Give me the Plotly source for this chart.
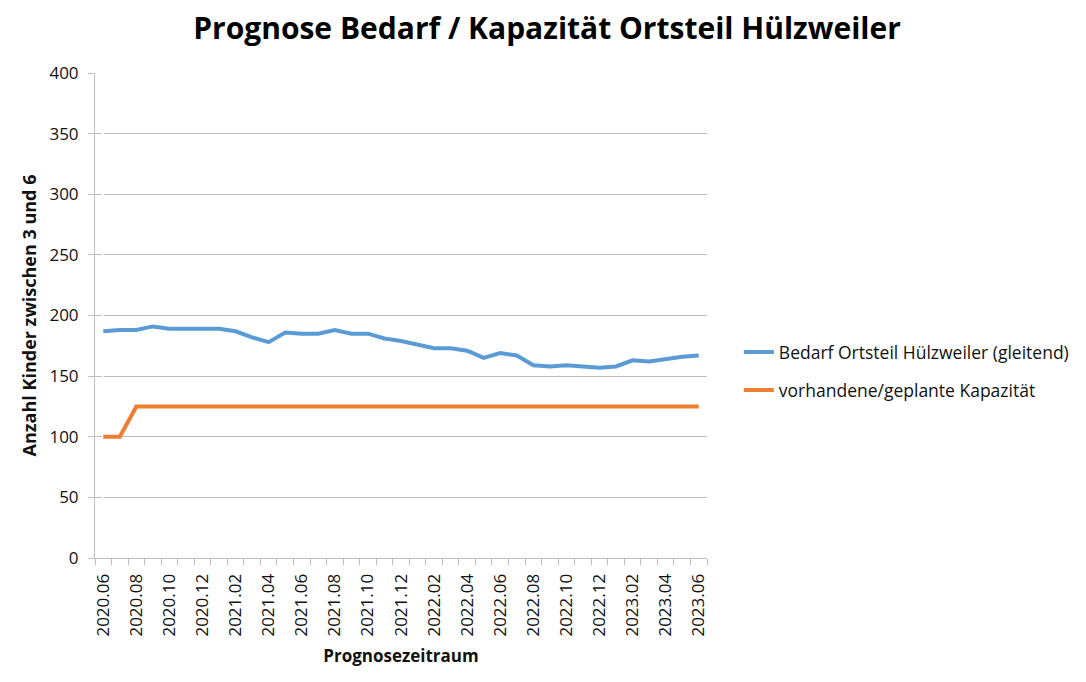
import plotly.graph_objects as go

months = [f"{2020 + (5 + i) // 12}.{(5 + i) % 12 + 1:02d}" for i in range(37)]
bedarf = [187, 188, 188, 191, 189, 189, 189, 189, 187, 182, 178, 186, 185, 185, 188, 185, 185, 181,
          179, 176, 173, 173, 171, 165, 169, 167, 159, 158, 159, 158, 157, 158, 163, 162, 164, 166, 167]
kapazitaet = [100, 100, 125] + [125] * 34

idx = list(range(len(months)))
FONT = "Open Sans"
W, H = 1078, 674
L, R, T, B = 87, 377, 65, 124
ph = H - T - B

fig = go.Figure()
fig.add_trace(go.Scatter(x=idx, y=bedarf, mode="lines", name="Bedarf Ortsteil Hülzweiler (gleitend)",
                         line=dict(color="#5B9BD5", width=4), legend="legend"))
fig.add_trace(go.Scatter(x=idx, y=kapazitaet, mode="lines", name="vorhandene/geplante Kapazität",
                         line=dict(color="#ED7D31", width=4), legend="legend2"))

fig.update_layout(
    width=W, height=H,
    margin=dict(l=L, r=R, t=T, b=B),
    paper_bgcolor="white", plot_bgcolor="white",
    font=dict(family=FONT, color="#111111", size=17),
    title=dict(text="<b>Prognose Bedarf / Kapazität Ortsteil Hülzweiler</b>",
               x=0.5, xanchor="center", y=1 - 20 / H, yanchor="middle",
               font=dict(family=FONT, size=30, color="black")),
    showlegend=True,
    legend=dict(x=1.052, y=1 - (352 - 73) / ph, xanchor="left", yanchor="middle",
                font=dict(size=17.5, family=FONT), bgcolor="rgba(0,0,0,0)"),
    legend2=dict(x=1.052, y=1 - (390 - 73) / ph, xanchor="left", yanchor="middle",
                 font=dict(size=17.5, family=FONT), bgcolor="rgba(0,0,0,0)"),
)

fig.update_xaxes(
    range=[-0.5, len(months) - 0.5],
    tickmode="array", tickvals=idx[::2], ticktext=months[::2],
    tickangle=-90, ticks="", showgrid=False, ticklabelstandoff=8,
    showline=True, linecolor="#bfbfbf", linewidth=1,
    tickfont=dict(size=17, family=FONT),
    minor=dict(ticks="outside", tick0=-0.5, dtick=1, ticklen=6, tickcolor="#bfbfbf", showgrid=False),
    title=dict(text="<b>Prognosezeitraum</b>", font=dict(size=17, family=FONT), standoff=14),
)
fig.update_yaxes(
    range=[0, 400], dtick=50, tick0=0,
    showgrid=True, gridcolor="#bfbfbf", gridwidth=1,
    showline=True, linecolor="#bfbfbf", linewidth=1,
    ticks="outside", ticklen=6, tickcolor="#bfbfbf", ticklabelstandoff=6,
    tickfont=dict(size=17, family=FONT), zeroline=False,
    title=dict(text="<b>Anzahl Kinder zwischen 3 und 6</b>", font=dict(size=18, family=FONT), standoff=8),
)

fig.write_html("out.html")
